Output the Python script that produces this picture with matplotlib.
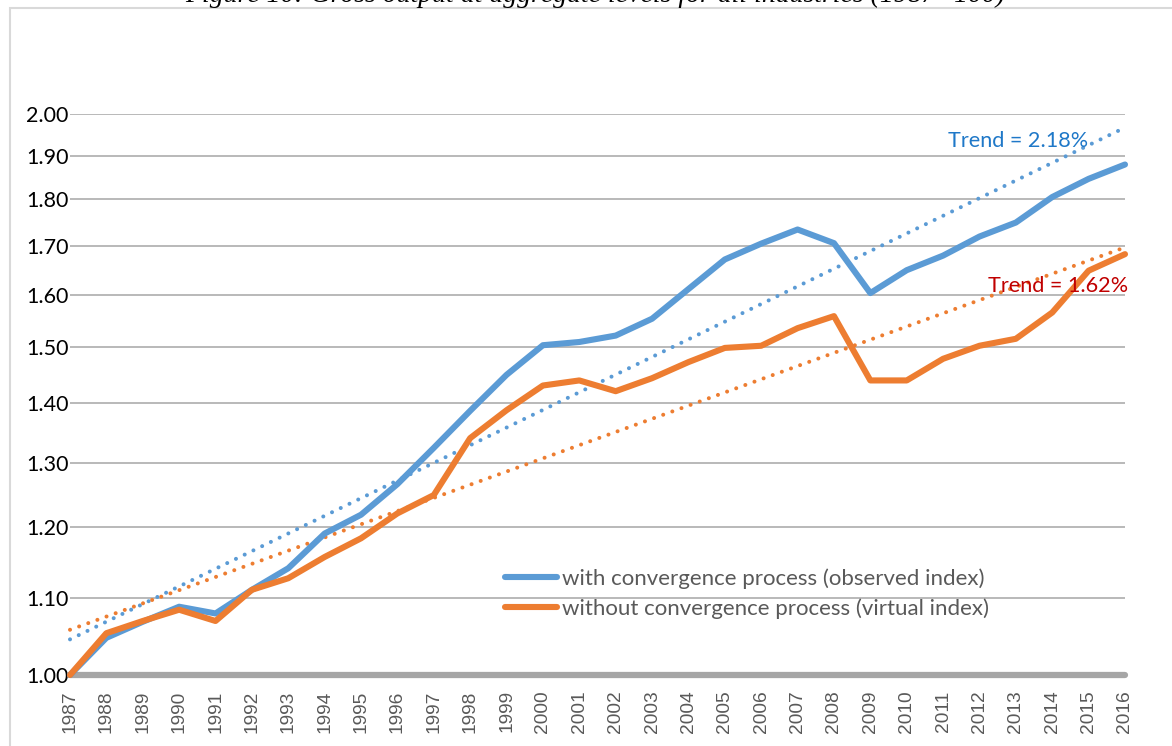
import numpy as np
import matplotlib.pyplot as plt
from matplotlib.patches import Rectangle
from matplotlib.ticker import NullLocator

years = list(range(1987, 2017))
observed = [1.000, 1.047, 1.068, 1.088, 1.079, 1.111, 1.141, 1.191, 1.219, 1.266,
            1.324, 1.386, 1.449, 1.503, 1.509, 1.521, 1.553, 1.611, 1.671, 1.704,
            1.734, 1.705, 1.603, 1.649, 1.679, 1.719, 1.749, 1.805, 1.846, 1.879]
virtual = [1.000, 1.053, 1.069, 1.084, 1.069, 1.111, 1.127, 1.157, 1.184, 1.221,
           1.249, 1.340, 1.387, 1.430, 1.439, 1.420, 1.443, 1.472, 1.498, 1.502,
           1.535, 1.558, 1.439, 1.439, 1.478, 1.502, 1.515, 1.565, 1.648, 1.682]
series_names = ['with convergence process (observed index)',
                'without convergence process (virtual index)']
trend_labels = ['Trend = 2.18%', 'Trend = 1.62%']
yticks = [1.00, 1.10, 1.20, 1.30, 1.40, 1.50, 1.60, 1.70, 1.80, 1.90, 2.00]
title = 'Figure 10: Gross output at aggregate levels for all industries (1987=100)'

blue = '#5B9BD5'
orange = '#ED7D31'

W, H = 1172, 746
fig = plt.figure(figsize=(W / 100, H / 100), dpi=100)
ax = fig.add_axes([70 / W, 1 - 675 / H, 1055 / W, 561 / H])

x = np.array(years)
for vals, col, name in [(observed, blue, series_names[0]), (virtual, orange, series_names[1])]:
    ax.plot(x, vals, color=col, lw=4.4, solid_capstyle='round',
            solid_joinstyle='round', label=name, zorder=4, clip_on=False)
    # exponential trend like excel
    b, a = np.polyfit(x - x[0], np.log(vals), 1)
    ax.plot(x, np.exp(a + b * (x - x[0])), color=col, lw=2.9,
            linestyle=(0, (0.01, 2.4)), dash_capstyle='round', zorder=3, clip_on=False)

ax.set_yscale('log')
ax.set_ylim(1.0, 2.0)
ax.set_xlim(1987, 2016)
ax.set_yticks(yticks)
ax.set_yticklabels(['%.2f' % v for v in yticks])
ax.yaxis.set_minor_locator(NullLocator())
ax.set_xticks(years)
ax.set_xticklabels([str(y) for y in years], rotation=90, fontsize=13.8,
                   color='#595959', family='Liberation Sans')
ax.tick_params(axis='x', length=0, pad=11)
ax.tick_params(axis='y', length=0, pad=1, labelsize=15.5, labelcolor='black')
for lab in ax.get_yticklabels():
    lab.set_family('Lato')

ax.grid(axis='y', color='#b3b3b3', lw=1.3)
ax.set_axisbelow(True)
for s in ['top', 'right', 'left']:
    ax.spines[s].set_visible(False)
ax.spines['bottom'].set_color('#a6a6a6')
ax.spines['bottom'].set_linewidth(4.5)
ax.spines['bottom'].set_capstyle('round')

leg = fig.legend(loc='upper left', bbox_to_anchor=(505 / W, 1 - 568 / H),
                 frameon=False, borderpad=0, borderaxespad=0, handlelength=2.35,
                 handletextpad=0.2, labelspacing=0.45,
                 prop={'family': 'Lato', 'size': 16})
for t in leg.get_texts():
    t.set_color('#595959')

fig.text(1088 / W, 1 - 141 / H, trend_labels[0], color='#1F78C8', fontsize=15.6,
         family='Lato', ha='right', va='center')
fig.text(1128 / W, 1 - 286 / H, trend_labels[1], color='#C00000', fontsize=15.6,
         family='Lato', ha='right', va='center')

# page frame and cropped caption
fig.add_artist(Rectangle((10 / W, -0.1), 1.2, 1.1 - 8 / H, transform=fig.transFigure,
                         fill=False, ec='#d9d9d9', lw=1.5))
fig.text(595 / W, 1 - 2 / H, title, fontsize=20, fontstyle='italic',
         family='Liberation Serif', ha='center', va='baseline')

fig.savefig('out.png', dpi=100)
